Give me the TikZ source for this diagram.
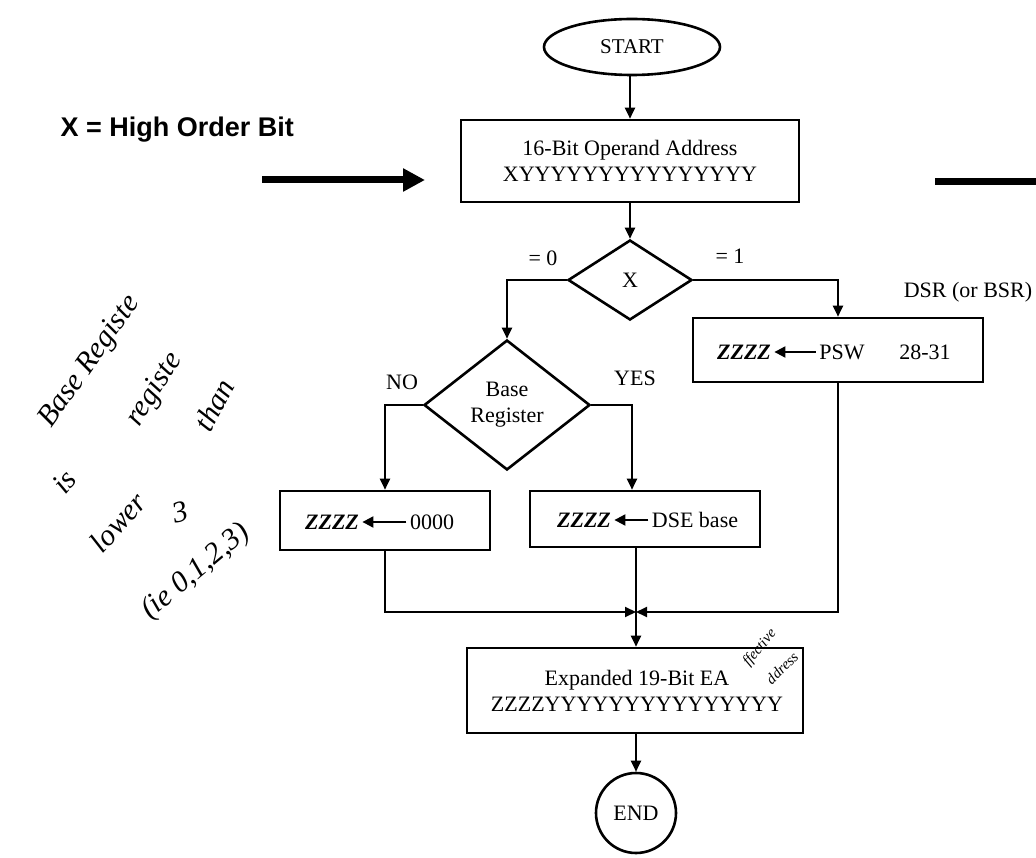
\documentclass[tikz,border=0pt]{standalone}
\usepackage{fontspec}
\setmainfont{Liberation Serif}
\newfontfamily\sansb{Liberation Sans}
\usetikzlibrary{arrows.meta,shapes.geometric}
\begin{document}
\begin{tikzpicture}[x=1pt,y=-1pt,
  box/.style={draw,line width=2.6pt,inner sep=0pt},
  conn/.style={line width=2pt,-{Triangle[length=11pt,width=10pt]}},
  inarr/.style={line width=2pt,-{Triangle[length=11pt,width=11pt]}},
  lbl/.style={font=\fontsize{22}{26}\selectfont},
  zz/.style={font=\bfseries\itshape\fontsize{22}{24}\selectfont},
  hand/.style={font=\itshape\fontsize{30}{32}\selectfont},
  handsm/.style={font=\itshape\fontsize{15}{16}\selectfont},
]
\useasboundingbox (0,0) rectangle (1036,858);

% title and thick arrows
\node[font=\sansb\bfseries\fontsize{27}{29}\selectfont,anchor=west] (title) at (57,130) {X = High Order Bit};
\coordinate (la) at (262,180);
\coordinate (lb) at (425,180);
\draw[line width=7pt,-{Triangle[length=22pt,width=22pt]}] (la) -- (lb);
\coordinate (ra) at (935,182);
\coordinate (rb) at (1036,182);
\draw[line width=7pt] (ra) -- (rb);

% main flow
\node[draw,ellipse,line width=2.6pt,minimum width=176pt,minimum height=56pt,font=\fontsize{21}{24}\selectfont] (start) at (632,47) {START};
\node[box,lbl,minimum width=338pt,minimum height=82pt,align=center] (b1) at (630,161) {16-Bit Operand Address\\XYYYYYYYYYYYYYYY};
\node[draw,diamond,line width=2.6pt,minimum width=124pt,minimum height=80pt,inner sep=0pt,lbl] (dx) at (630,280) {X};
\node[draw,diamond,line width=2.6pt,minimum width=166pt,minimum height=130pt,inner sep=0pt,lbl,align=center] (br) at (507,405) {Base\\Register};

\node[box,minimum width=210pt,minimum height=59pt] (b2) at (385,520.5) {};
\node[box,minimum width=230pt,minimum height=56pt] (b4) at (645,519) {};
\node[box,minimum width=290pt,minimum height=64pt] (b3) at (838,350) {};
\node[box,minimum width=336pt,minimum height=85pt] (b5) at (635,690.5) {};
\node[lbl,align=center] (t5) at (637,690.5) {Expanded 19-Bit EA\\ZZZZYYYYYYYYYYYYYYY};
\node[draw,circle,line width=2.6pt,minimum size=80pt,inner sep=0pt,lbl] (end) at (636,813) {END};

% box contents
\node[zz] (z2) at (332,522) {ZZZZ};
\node[lbl] (o2) at (432,522) {0000};
\draw[inarr] (o2.west) -- (z2.east);
\node[zz] (z4) at (584,520) {ZZZZ};
\node[lbl] (d4) at (695,520) {DSE base};
\draw[inarr] (d4.west) -- (z4.east);
\node[zz] (z3) at (744,352) {ZZZZ};
\node[lbl] (p3) at (842,352) {PSW};
\node[lbl] (n3) at (925,352) {28-31};
\draw[inarr] (p3.west) -- (z3.east);

% labels
\node[lbl] (l0) at (543,258) {= 0};
\node[lbl] (l1) at (730,256) {= 1};
\node[lbl] (lno) at (402,382) {NO};
\node[lbl] (lyes) at (635,378) {YES};
\node[lbl] (ldsr) at (968,292) {DSR (or BSR)};

% connectors
\coordinate (m) at (636,612);
\draw[conn] (start.south -| b1.north) -- (b1.north);
\draw[conn] (b1.south) -- (dx.north);
\draw[conn] (dx.west) -| (br.north);
\draw[conn] (dx.east) -| (b3.north);
\draw[conn] (br.west) -| (b2.north);
\draw[conn] (br.east) -| ([xshift=-13pt]b4.north);
\draw[conn] (b2.south) |- (m);
\draw[conn] (b3.south) |- (m);
\draw[conn] (b4.south -| m) -- (b5.north -| m);
\draw[conn] (b5.south -| end.north) -- (end.north);

% handwritten notes
\node[hand,rotate=55] (h1) at (90,362) {Base Registe};
\node[hand,rotate=50] (h2) at (64,482) {is};
\node[hand,rotate=58] (h3) at (155,390) {registe};
\node[hand,rotate=62] (h4) at (214,405) {than};
\node[hand,rotate=48] (h5) at (118,522) {lower};
\node[hand,rotate=15] (h6) at (180,512) {3};
\node[hand,rotate=40] (h7) at (196,572) {(ie 0,1,2,3)};
\node[handsm,rotate=50] (h8) at (760,648) {ffective};
\node[handsm,rotate=45] (h9) at (782,668) {ddress};
\end{tikzpicture}
\end{document}
